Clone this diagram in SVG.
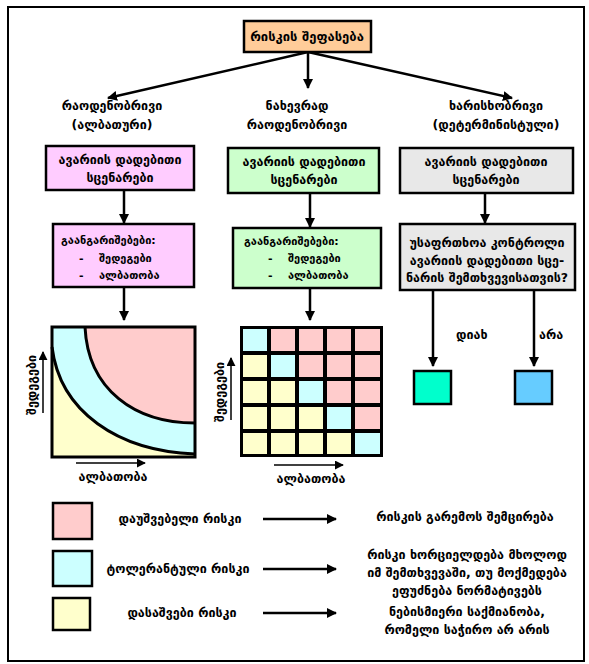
<svg xmlns="http://www.w3.org/2000/svg" width="589" height="664" viewBox="0 0 589 664">
<defs>
<marker id="ah" viewBox="0 0 10 10" refX="9" refY="5" markerWidth="4" markerHeight="4" orient="auto" markerUnits="strokeWidth">
<path d="M0,0 L10,5 L0,10 Z" fill="#000"/>
</marker>
<marker id="ahs" viewBox="0 0 10 10" refX="9" refY="5" markerWidth="6" markerHeight="6" orient="auto" markerUnits="strokeWidth">
<path d="M0,0 L10,5 L0,10 Z" fill="#000"/>
</marker>
</defs>
<style>
text{font-family:"DejaVu Sans","Noto Sans",sans-serif;font-weight:bold;font-size:12.5px;fill:#000}
.c{text-anchor:middle}
.s{font-size:11px}
.box{stroke:#000;stroke-width:2.5}
.con{stroke:#000;stroke-width:2.5;fill:none;marker-end:url(#ah)}
.ax{stroke:#000;stroke-width:1.5;fill:none;marker-end:url(#ahs)}
.sq{stroke:#000;stroke-width:2.5}
</style>
<rect x="8" y="7" width="576" height="654" fill="#fff" stroke="#000" stroke-width="2"/>

<g id="connectors">
<line class="con" x1="308" y1="52" x2="108" y2="98"/>
<line class="con" x1="308" y1="52" x2="308" y2="88"/>
<line class="con" x1="308" y1="52" x2="512" y2="98"/>
<line class="con" x1="124" y1="190" x2="124" y2="223"/>
<line class="con" x1="310" y1="193" x2="310" y2="227"/>
<line class="con" x1="485" y1="193" x2="485" y2="223"/>
<line class="con" x1="124" y1="287" x2="124" y2="320"/>
<line class="con" x1="310" y1="288" x2="310" y2="320"/>
<line class="con" x1="433" y1="290" x2="433" y2="366"/>
<line class="con" x1="534" y1="290" x2="534" y2="366"/>
<line class="con" x1="263" y1="519" x2="336" y2="519"/>
<line class="con" x1="263" y1="569" x2="336" y2="569"/>
<line class="con" x1="263" y1="613" x2="336" y2="613"/>
</g>

<g id="title">
<rect class="box" x="244" y="21" width="127" height="31" fill="#ffcc99"/>
<text class="c" x="307" y="41" style="font-size:13px">რისკის შეფასება</text>
</g>

<g id="col1-label">
<text class="c" x="112" y="110">რაოდენობრივი</text>
<text class="c" x="112" y="129">(ალბათური)</text>
</g>
<g id="col2-label">
<text class="c" x="297" y="110">ნახევრად</text>
<text class="c" x="297" y="129">რაოდენობრივი</text>
</g>
<g id="col3-label">
<text class="c" x="496" y="110">ხარისხობრივი</text>
<text class="c" x="496" y="129">(დეტერმინისტული)</text>
</g>

<g id="scen1">
<rect class="box" x="46" y="146" width="148" height="44" fill="#ffccff"/>
<text class="c" x="120" y="164">ავარიის დადებითი</text>
<text class="c" x="120" y="182">სცენარები</text>
</g>
<g id="scen2">
<rect class="box" x="228" y="148" width="151" height="45" fill="#ccffcc" stroke-width="3"/>
<text class="c" x="304" y="166">ავარიის დადებითი</text>
<text class="c" x="304" y="184">სცენარები</text>
</g>
<g id="scen3">
<rect class="box" x="400" y="148" width="173" height="45" fill="#e8e8e8" stroke-width="3"/>
<text class="c" x="486" y="166">ავარიის დადებითი</text>
<text class="c" x="486" y="184">სცენარები</text>
</g>

<g id="calc1">
<rect class="box" x="53" y="224" width="141" height="63" fill="#ffccff"/>
<text class="s" x="61" y="244">გაანგარიშებები:</text>
<text class="s" x="79" y="262">-</text>
<text class="s" x="99" y="262">შედეგები</text>
<text class="s" x="79" y="279">-</text>
<text class="s" x="99" y="279">ალბათობა</text>
</g>
<g id="calc2">
<rect class="box" x="233" y="228" width="148" height="60" fill="#ccffcc" stroke-width="3"/>
<text class="s" x="244" y="245">გაანგარიშებები:</text>
<text class="s" x="268" y="262">-</text>
<text class="s" x="288" y="262">შედეგები</text>
<text class="s" x="268" y="279">-</text>
<text class="s" x="288" y="279">ალბათობა</text>
</g>
<g id="question">
<rect class="box" x="400" y="224" width="175" height="66" fill="#e8e8e8" stroke-width="3"/>
<text class="c" x="487" y="247">უსაფრთხოა კონტროლი</text>
<text class="c" x="487" y="265">ავარიის დადებითი სცე-</text>
<text class="c" x="487" y="282">ნარის შემთხვევისათვის?</text>
</g>

<g id="chart1">
<rect x="52" y="327" width="143" height="130" fill="#ccffff"/>
<path d="M52,347 C60,412 118,451 195,454 L195,457 L52,457 Z" fill="#ffffcc"/>
<path d="M85,327 C88,390 135,423 195,423 L195,327 Z" fill="#ffcccc"/>
<path d="M52,347 C60,412 118,451 195,454" fill="none" stroke="#000" stroke-width="3"/>
<path d="M85,327 C88,390 135,423 195,423" fill="none" stroke="#000" stroke-width="3"/>
<rect x="52" y="327" width="143" height="130" fill="none" stroke="#000" stroke-width="3"/>
<line class="ax" x1="43" y1="413" x2="43" y2="352"/>
<text class="c" transform="translate(36,385) rotate(-90)">შედეგები</text>
<line class="ax" x1="76" y1="463" x2="145" y2="463"/>
<text class="c" x="113" y="481">ალბათობა</text>
</g>

<g id="chart2">
<rect x="240" y="326" width="143" height="131" fill="#000"/>
<g stroke="none">
<rect x="243" y="329" width="24" height="22" fill="#ccffff"/>
<rect x="271" y="329" width="24" height="22" fill="#ffcccc"/>
<rect x="299" y="329" width="24" height="22" fill="#ffcccc"/>
<rect x="327" y="329" width="24" height="22" fill="#ffcccc"/>
<rect x="355" y="329" width="25" height="22" fill="#ffcccc"/>
<rect x="243" y="355" width="24" height="22" fill="#ffffcc"/>
<rect x="271" y="355" width="24" height="22" fill="#ccffff"/>
<rect x="299" y="355" width="24" height="22" fill="#ffcccc"/>
<rect x="327" y="355" width="24" height="22" fill="#ffcccc"/>
<rect x="355" y="355" width="25" height="22" fill="#ffcccc"/>
<rect x="243" y="381" width="24" height="22" fill="#ffffcc"/>
<rect x="271" y="381" width="24" height="22" fill="#ffffcc"/>
<rect x="299" y="381" width="24" height="22" fill="#ccffff"/>
<rect x="327" y="381" width="24" height="22" fill="#ffcccc"/>
<rect x="355" y="381" width="25" height="22" fill="#ffcccc"/>
<rect x="243" y="407" width="24" height="22" fill="#ffffcc"/>
<rect x="271" y="407" width="24" height="22" fill="#ffffcc"/>
<rect x="299" y="407" width="24" height="22" fill="#ffffcc"/>
<rect x="327" y="407" width="24" height="22" fill="#ccffff"/>
<rect x="355" y="407" width="25" height="22" fill="#ffcccc"/>
<rect x="243" y="433" width="24" height="21" fill="#ffffcc"/>
<rect x="271" y="433" width="24" height="21" fill="#ffffcc"/>
<rect x="299" y="433" width="24" height="21" fill="#ffffcc"/>
<rect x="327" y="433" width="24" height="21" fill="#ffffcc"/>
<rect x="355" y="433" width="25" height="21" fill="#ccffff"/>
</g>
<line class="ax" x1="231" y1="420" x2="231" y2="358"/>
<text class="c" transform="translate(224,392) rotate(-90)">შედეგები</text>
<line class="ax" x1="274" y1="465" x2="343" y2="465"/>
<text class="c" x="311" y="483">ალბათობა</text>
</g>

<g id="yes">
<rect class="sq" x="414" y="371" width="37" height="33" fill="#00ffcc"/>
<text x="456" y="339">დიახ</text>
</g>
<g id="no">
<rect class="sq" x="515" y="371" width="37" height="33" fill="#66ccff"/>
<text x="539" y="339">არა</text>
</g>

<g id="legend-unacceptable">
<rect class="sq" x="53" y="503" width="39" height="36" fill="#ffcccc"/>
<text class="c" x="180" y="523">დაუშვებელი რისკი</text>
<text class="c" x="465" y="521">რისკის გარემოს შემცირება</text>
</g>
<g id="legend-tolerable">
<rect class="sq" x="53" y="551" width="39" height="35" fill="#ccffff"/>
<text class="c" x="178" y="573">ტოლერანტული რისკი</text>
<text class="c" x="467" y="559">რისკი ხორციელდება მხოლოდ</text>
<text class="c" x="467" y="577">იმ შემთხვევაში, თუ მოქმედება</text>
<text class="c" x="467" y="595">ეფუძნება ნორმატივებს</text>
</g>
<g id="legend-acceptable">
<rect class="sq" x="53" y="598" width="37" height="32" fill="#ffffcc"/>
<text class="c" x="182" y="617">დასაშვები რისკი</text>
<text class="c" x="467" y="616">ნებისმიერი საქმიანობა,</text>
<text class="c" x="467" y="634">რომელი საჭირო არ არის</text>
</g>
</svg>
